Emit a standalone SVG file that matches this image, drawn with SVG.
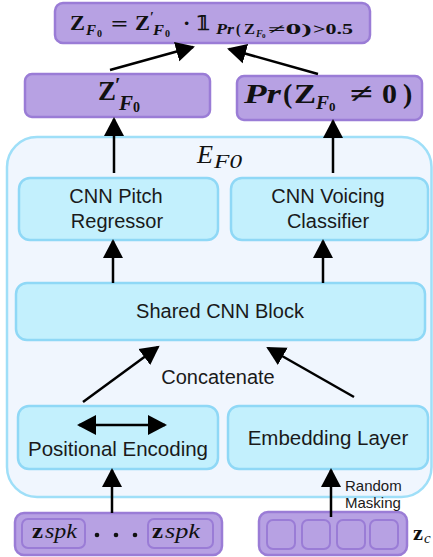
<svg xmlns="http://www.w3.org/2000/svg" width="433" height="557" viewBox="0 0 433 557">
<style>
.pur{fill:#b7a1e3;stroke:#9a7cd6;stroke-width:2.5}
.purin{fill:#b7a1e3;stroke:#9a7cd6;stroke-width:2}
.cy{fill:#c3f0fd;stroke:#8fd8f6;stroke-width:2.5}
.outer{fill:#f0f6fe;stroke:#9fdff8;stroke-width:2.5}
.t{font-family:"Liberation Sans",Arial,sans-serif;fill:#1a1a1a}
.m{font-family:"Liberation Serif","DejaVu Serif",serif;fill:#111;font-weight:bold}
.mi{font-family:"Liberation Serif","DejaVu Serif",serif;fill:#111;font-style:italic}
.ln{stroke:#000;stroke-width:2.5;fill:none}
</style>
<defs>
<marker id="ah" markerUnits="userSpaceOnUse" markerWidth="20" markerHeight="22" viewBox="0 0 20 22" refX="17" refY="11" orient="auto-start-reverse">
<path d="M0,1 L19,11 L0,21 z" fill="#000"/>
</marker>
</defs>

<g id="outer">
<rect class="outer" x="7" y="137" width="424.5" height="360" rx="30"/>
<text class="mi" x="197" y="163" font-size="25" textLength="16" lengthAdjust="spacingAndGlyphs">E</text>
<text class="mi" x="214" y="168" font-size="18" textLength="28" lengthAdjust="spacingAndGlyphs">F0</text>
</g>

<g id="zf0">
<rect class="pur" x="55" y="3" width="315" height="40" rx="8"/>
<text class="m" x="70" y="30" font-size="22" textLength="15" lengthAdjust="spacingAndGlyphs">Z</text>
<text class="m" x="86" y="35" font-size="15" font-style="italic" textLength="10" lengthAdjust="spacingAndGlyphs">F</text>
<text class="m" x="97" y="37" font-size="10">0</text>
<text class="m" x="111" y="31" font-size="22" textLength="17" lengthAdjust="spacingAndGlyphs">=</text>
<text class="m" x="135" y="30" font-size="22" textLength="15" lengthAdjust="spacingAndGlyphs">Z</text>
<text class="m" x="150" y="22" font-size="14">′</text>
<text class="m" x="153" y="35" font-size="15" font-style="italic" textLength="11" lengthAdjust="spacingAndGlyphs">F</text>
<text class="m" x="165" y="37" font-size="10">0</text>
<text class="m" x="183" y="30" font-size="22">·</text>
<text class="m" x="197" y="30" font-size="20" font-family="DejaVu Sans, sans-serif">𝟙</text>
<text class="m" x="216" y="34" font-size="14" font-style="italic" textLength="18" lengthAdjust="spacingAndGlyphs">Pr</text>
<text class="m" x="236" y="34" font-size="14" font-weight="normal">(</text>
<text class="m" x="244" y="34" font-size="14" textLength="11" lengthAdjust="spacingAndGlyphs">Z</text>
<text class="m" x="256" y="37" font-size="10" font-style="italic">F</text>
<text class="m" x="262" y="38" font-size="7">0</text>
<text class="m" x="268" y="34" font-size="14" textLength="44" lengthAdjust="spacingAndGlyphs">≠0)</text>
<text class="m" x="313" y="34" font-size="14" textLength="40" lengthAdjust="spacingAndGlyphs">&gt;0.5</text>
</g>

<g id="zprime">
<rect class="pur" x="25" y="74" width="185" height="43" rx="7"/>
<text class="m" x="98" y="100" font-size="27" textLength="18" lengthAdjust="spacingAndGlyphs">Z</text>
<text class="m" x="115" y="92" font-size="20">′</text>
<text class="m" x="119" y="110" font-size="20" font-style="italic" textLength="14" lengthAdjust="spacingAndGlyphs">F</text>
<text class="m" x="133" y="112" font-size="14">0</text>
</g>

<g id="prob">
<rect class="pur" x="237" y="76" width="185" height="44" rx="7"/>
<text class="m" x="244" y="103" font-size="28" font-style="italic" textLength="37" lengthAdjust="spacingAndGlyphs">Pr</text>
<text class="m" x="283" y="103" font-size="28" font-weight="normal">(</text>
<text class="m" x="294" y="103" font-size="28" textLength="22" lengthAdjust="spacingAndGlyphs">Z</text>
<text class="m" x="316" y="109" font-size="19" font-style="italic" textLength="13" lengthAdjust="spacingAndGlyphs">F</text>
<text class="m" x="329" y="111" font-size="13">0</text>
<text class="m" x="350" y="103" font-size="28" font-weight="normal" textLength="23" lengthAdjust="spacingAndGlyphs">≠</text>
<text class="m" x="382" y="103" font-size="28" font-weight="normal" textLength="15" lengthAdjust="spacingAndGlyphs">0</text>
<text class="m" x="403" y="103" font-size="28" font-weight="normal">)</text>
</g>

<g id="pitch">
<rect class="cy" x="19" y="178" width="199" height="62" rx="11"/>
<text class="t" x="116" y="203" font-size="20" text-anchor="middle">CNN Pitch</text>
<text class="t" x="117" y="228" font-size="20" text-anchor="middle">Regressor</text>
</g>

<g id="voicing">
<rect class="cy" x="231" y="178" width="197" height="62" rx="11"/>
<text class="t" x="328" y="203" font-size="20" text-anchor="middle">CNN Voicing</text>
<text class="t" x="328" y="228" font-size="20" text-anchor="middle">Classifier</text>
</g>

<g id="shared">
<rect class="cy" x="16" y="283" width="409" height="57" rx="11"/>
<text class="t" x="220" y="318" font-size="20" text-anchor="middle">Shared CNN Block</text>
</g>

<g id="posenc">
<rect class="cy" x="18" y="406" width="200" height="63" rx="11"/>
<line class="ln" x1="79" y1="425" x2="165" y2="425" marker-start="url(#ah)" marker-end="url(#ah)"/>
<text class="t" x="118" y="456" font-size="20.5" text-anchor="middle">Positional Encoding</text>
</g>

<g id="embed">
<rect class="cy" x="228" y="406" width="200" height="63" rx="11"/>
<text class="t" x="328" y="445" font-size="20.5" text-anchor="middle">Embedding Layer</text>
</g>

<g id="zspk">
<rect class="pur" x="15" y="513" width="207" height="42" rx="9"/>
<rect class="purin" x="22" y="519" width="63" height="29" rx="6"/>
<rect class="purin" x="148" y="519" width="65" height="29" rx="6"/>
<text class="m" x="32" y="538" font-size="20" textLength="11" lengthAdjust="spacingAndGlyphs">z</text>
<text class="mi" x="45" y="538" font-size="20" textLength="32" lengthAdjust="spacingAndGlyphs">spk</text>
<text class="m" x="152" y="538" font-size="20" textLength="11" lengthAdjust="spacingAndGlyphs">z</text>
<text class="mi" x="165" y="538" font-size="20" textLength="35" lengthAdjust="spacingAndGlyphs">spk</text>
<circle cx="97" cy="535" r="2.3" fill="#111"/>
<circle cx="116" cy="535" r="2.3" fill="#111"/>
<circle cx="135" cy="535" r="2.3" fill="#111"/>
</g>

<g id="zc">
<rect class="pur" x="259" y="512" width="148" height="43" rx="9"/>
<rect class="purin" x="267" y="520" width="28" height="29" rx="6"/>
<rect class="purin" x="302" y="520" width="28" height="29" rx="6"/>
<rect class="purin" x="337" y="520" width="28" height="29" rx="6"/>
<rect class="purin" x="370" y="520" width="28" height="29" rx="6"/>
<text class="m" x="413" y="540" font-size="20" textLength="10" lengthAdjust="spacingAndGlyphs">z</text>
<text class="mi" x="424" y="543" font-size="15">c</text>
</g>

<g id="connectors">
<line class="ln" x1="110" y1="70" x2="193" y2="47" marker-end="url(#ah)"/>
<line class="ln" x1="318" y1="74" x2="229" y2="49" marker-end="url(#ah)"/>
<line class="ln" x1="114" y1="173" x2="114" y2="119" marker-end="url(#ah)"/>
<line class="ln" x1="333" y1="173" x2="333" y2="121" marker-end="url(#ah)"/>
<line class="ln" x1="113" y1="283" x2="113" y2="241" marker-end="url(#ah)"/>
<line class="ln" x1="323" y1="283" x2="323" y2="241" marker-end="url(#ah)"/>
<line class="ln" x1="83" y1="402" x2="158" y2="347" marker-end="url(#ah)"/>
<line class="ln" x1="354" y1="397" x2="268" y2="348" marker-end="url(#ah)"/>
<line class="ln" x1="112" y1="513" x2="112" y2="470" marker-end="url(#ah)"/>
<line class="ln" x1="331" y1="517" x2="331" y2="470" marker-end="url(#ah)"/>
<text class="t" x="218" y="384" font-size="20" text-anchor="middle">Concatenate</text>
<text class="t" x="345" y="491" font-size="15">Random</text>
<text class="t" x="345" y="508" font-size="15">Masking</text>
</g>
</svg>
